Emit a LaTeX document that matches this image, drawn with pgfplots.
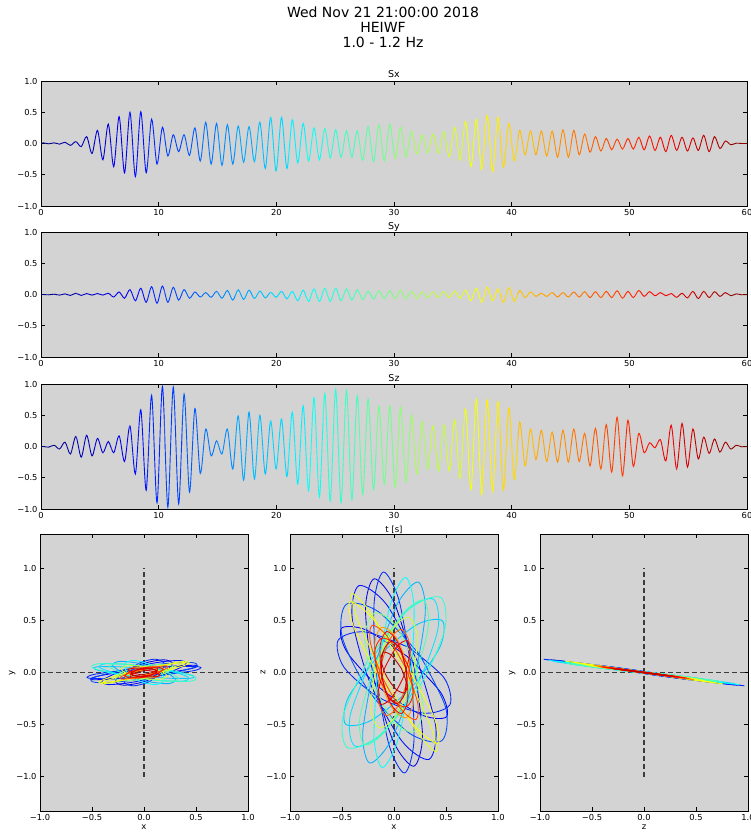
\documentclass[border=0pt]{standalone}
\usepackage{pgfplots}
\pgfplotsset{compat=1.18}
\usepackage{pgfplotstable}
\usepackage{fontspec}
\setmainfont{DejaVu Sans}
\definecolor{bggray}{RGB}{211,211,211}
\definecolor{dgray}{RGB}{60,60,60}
\definecolor{cA}{rgb}{0,0,0.9}
\definecolor{cB}{rgb}{0,0,0.98}
\definecolor{cC}{rgb}{0,0.06,1}
\definecolor{cU}{rgb}{0,0.14,1}
\definecolor{cD}{rgb}{0,0.18,1}
\definecolor{cE}{rgb}{0,0.3,1}
\definecolor{cF}{rgb}{0,0.7,1}
\definecolor{cG}{rgb}{0,0.78,1}
\definecolor{cH}{rgb}{0,0.9,1}
\definecolor{cI}{rgb}{0.02,1,0.98}
\definecolor{cV}{rgb}{0.18,1,0.82}
\definecolor{cJ}{rgb}{0.3,1,0.7}
\definecolor{cK}{rgb}{0.5,1,0.5}
\definecolor{cL}{rgb}{0.82,1,0.18}
\definecolor{cM}{rgb}{0.9,1,0.1}
\definecolor{cN}{rgb}{0.98,1,0.02}
\definecolor{cO}{rgb}{1,0.62,0}
\definecolor{cP}{rgb}{1,0.38,0}
\definecolor{cW}{rgb}{1,0.3,0}
\definecolor{cQ}{rgb}{1,0.1,0}
\definecolor{cR}{rgb}{1,0.02,0}
\definecolor{cS}{rgb}{0.9,0,0}
\definecolor{cX}{rgb}{0.82,0,0}
\definecolor{cT}{rgb}{0.74,0,0}

% time series: t, Sx, Sy, Sz
\pgfplotstableread{
t sx sy sz
0 0 0 0
0.20 0.01 0.0 0.0
0.66 -0.005 -0.005 -0.01
1.12 0.01 0.005 0.02
1.58 -0.01 -0.01 -0.04
2.04 0.02 0.01 0.07
2.50 -0.03 -0.015 -0.12
2.96 0.03 0.02 0.16
3.42 -0.05 -0.015 -0.17
3.88 0.11 0.015 0.18
4.34 -0.16 -0.01 -0.15
4.80 0.21 0.015 0.13
5.26 -0.26 -0.01 -0.10
5.72 0.31 0.02 0.08
6.18 -0.37 -0.04 -0.10
6.64 0.43 0.04 0.17
7.10 -0.47 -0.06 -0.24
7.56 0.50 0.08 0.33
8.02 -0.53 -0.10 -0.44
8.48 0.51 0.10 0.59
8.94 -0.47 -0.125 -0.70
9.40 0.39 0.125 0.82
9.86 -0.33 -0.14 -0.90
10.32 0.26 0.135 0.96
10.78 -0.20 -0.125 -0.97
11.24 0.14 0.115 0.95
11.70 -0.13 -0.09 -0.92
12.16 0.14 0.08 0.84
12.62 -0.19 -0.06 -0.73
13.08 0.25 0.04 0.61
13.54 -0.28 -0.04 -0.43
14.00 0.34 0.03 0.28
14.46 -0.33 -0.045 -0.15
14.92 0.32 0.05 0.09
15.38 -0.35 -0.06 -0.12
15.84 0.30 0.065 0.28
16.30 -0.33 -0.09 -0.36
16.76 0.28 0.075 0.49
17.22 -0.30 -0.08 -0.54
17.68 0.27 0.07 0.55
18.14 -0.29 -0.065 -0.52
18.60 0.34 0.055 0.50
19.06 -0.40 -0.055 -0.44
19.52 0.42 0.035 0.41
19.98 -0.44 -0.045 -0.36
20.44 0.42 0.05 0.44
20.90 -0.40 -0.07 -0.48
21.36 0.38 0.05 0.55
21.82 -0.31 -0.10 -0.60
22.28 0.32 0.07 0.65
22.74 -0.28 -0.11 -0.71
23.20 0.25 0.09 0.78
23.66 -0.26 -0.11 -0.81
24.12 0.24 0.10 0.85
24.58 -0.23 -0.11 -0.87
25.04 0.22 0.10 0.91
25.50 -0.22 -0.10 -0.90
25.96 0.20 0.09 0.90
26.42 -0.22 -0.09 -0.85
26.88 0.20 0.075 0.81
27.34 -0.27 -0.08 -0.77
27.80 0.27 0.055 0.76
28.26 -0.29 -0.07 -0.69
28.72 0.30 0.06 0.65
29.18 -0.28 -0.065 -0.60
29.64 0.31 0.06 0.65
30.10 -0.24 -0.065 -0.65
30.56 0.26 0.07 0.63
31.02 -0.22 -0.07 -0.57
31.48 0.20 0.05 0.51
31.94 -0.17 -0.06 -0.44
32.40 0.14 0.04 0.40
32.86 -0.15 -0.05 -0.36
33.32 0.15 0.04 0.33
33.78 -0.16 -0.045 -0.39
34.24 0.19 0.05 0.35
34.70 -0.21 -0.05 -0.39
35.16 0.26 0.055 0.43
35.62 -0.27 -0.06 -0.51
36.08 0.35 0.07 0.60
36.54 -0.37 -0.10 -0.69
37.00 0.39 0.10 0.76
37.46 -0.42 -0.125 -0.77
37.92 0.45 0.115 0.75
38.38 -0.45 -0.10 -0.72
38.84 0.42 0.09 0.72
39.30 -0.38 -0.125 -0.70
39.76 0.32 0.11 0.62
40.22 -0.28 -0.11 -0.53
40.68 0.21 0.065 0.39
41.14 -0.18 -0.05 -0.31
41.60 0.20 0.04 0.28
42.06 -0.18 -0.03 -0.21
42.52 0.20 0.02 0.26
42.98 -0.20 -0.03 -0.24
43.44 0.20 0.03 0.23
43.90 -0.22 -0.04 -0.25
44.36 0.22 0.03 0.26
44.82 -0.22 -0.04 -0.25
45.28 0.21 0.04 0.28
45.74 -0.18 -0.04 -0.24
46.20 0.15 0.045 0.21
46.66 -0.14 -0.05 -0.31
47.12 0.11 0.045 0.29
47.58 -0.12 -0.05 -0.36
48.04 0.08 0.05 0.35
48.50 -0.10 -0.05 -0.41
48.96 0.07 0.06 0.47
49.42 -0.09 -0.06 -0.47
49.88 0.08 0.05 0.42
50.34 -0.09 -0.05 -0.32
50.80 0.10 0.065 0.21
51.26 -0.10 -0.03 -0.10
51.72 0.12 0.045 0.06
52.18 -0.11 -0.02 -0.02
52.64 0.10 0.03 0.11
53.10 -0.13 -0.02 -0.23
53.56 0.13 0.015 0.34
54.02 -0.11 -0.045 -0.36
54.48 0.10 0.02 0.37
54.94 -0.12 -0.055 -0.33
55.40 0.09 0.05 0.28
55.86 -0.11 -0.065 -0.20
56.32 0.13 0.05 0.15
56.78 -0.13 -0.05 -0.11
57.24 0.11 0.045 0.12
57.70 -0.08 -0.03 -0.09
58.16 0.04 0.03 0.07
58.62 -0.02 -0.02 -0.04
59.08 0.005 0.01 0.02
59.54 0 -0.005 -0.005
60 0 0 0
}\sdata

% hodogram loops: x z y
\pgfplotstableread{
x z y
0.196 0.042 0.000
0.004 0.666 -0.087
-0.191 0.900 -0.122
-0.274 0.607 -0.086
-0.196 -0.042 0.000
-0.004 -0.666 0.087
0.191 -0.900 0.122
0.274 -0.607 0.086
0.196 0.042 0.000
}\elA
\pgfplotstableread{
x z y
0.129 0.153 -0.017
-0.267 0.408 -0.060
-0.506 0.424 -0.068
-0.449 0.192 -0.036
-0.129 -0.153 0.017
0.267 -0.408 0.060
0.506 -0.424 0.068
0.449 -0.192 0.036
0.129 0.153 -0.017
}\elB
\pgfplotstableread{
x z y
0.232 0.094 -0.006
-0.074 0.656 -0.087
-0.337 0.834 -0.116
-0.402 0.523 -0.078
-0.232 -0.094 0.006
0.074 -0.656 0.087
0.337 -0.834 0.116
0.402 -0.523 0.078
0.232 0.094 -0.006
}\elC
\pgfplotstableread{
x z y
0.140 0.242 -0.027
-0.281 0.390 -0.058
-0.537 0.310 -0.053
-0.479 0.048 -0.018
-0.140 -0.242 0.027
0.281 -0.390 0.058
0.537 -0.310 0.053
0.479 -0.048 0.018
0.140 0.242 -0.027
}\elU
\pgfplotstableread{
x z y
0.169 0.018 0.002
0.048 0.695 -0.089
-0.101 0.965 -0.128
-0.191 0.670 -0.092
-0.169 -0.018 -0.002
-0.048 -0.695 0.089
0.101 -0.965 0.128
0.191 -0.670 0.092
0.169 0.018 0.002
}\elD
\pgfplotstableread{
x z y
0.246 0.172 -0.016
-0.151 0.585 -0.080
-0.459 0.655 -0.096
-0.498 0.341 -0.056
-0.246 -0.172 0.016
0.151 -0.585 0.080
0.459 -0.655 0.096
0.498 -0.341 0.056
0.246 0.172 -0.016
}\elE
\pgfplotstableread{
x z y
-0.193 0.052 -0.012
-0.301 -0.578 0.067
-0.233 -0.869 0.107
-0.028 -0.651 0.084
0.193 -0.052 0.012
0.301 0.578 -0.067
0.233 0.869 -0.107
0.028 0.651 -0.084
-0.193 0.052 -0.012
}\elF
\pgfplotstableread{
x z y
-0.161 0.150 -0.024
-0.442 -0.245 0.021
-0.464 -0.497 0.053
-0.214 -0.457 0.054
0.161 -0.150 0.024
0.442 0.245 -0.021
0.464 0.497 -0.053
0.214 0.457 -0.054
-0.161 0.150 -0.024
}\elG
\pgfplotstableread{
x z y
-0.221 0.117 -0.021
-0.422 -0.416 0.043
-0.376 -0.706 0.083
-0.110 -0.582 0.073
0.221 -0.117 0.021
0.422 0.416 -0.043
0.376 0.706 -0.083
0.110 0.582 -0.073
-0.221 0.117 -0.021
}\elH
\pgfplotstableread{
x z y
-0.159 0.020 -0.007
-0.192 -0.631 0.077
-0.112 -0.913 0.116
0.033 -0.660 0.087
0.159 -0.020 0.007
0.192 0.631 -0.077
0.112 0.913 -0.116
-0.033 0.660 -0.087
-0.159 0.020 -0.007
}\elI
\pgfplotstableread{
x z y
-0.237 0.148 -0.025
-0.486 -0.405 0.041
-0.450 -0.721 0.083
-0.151 -0.614 0.076
0.237 -0.148 0.025
0.486 0.405 -0.041
0.450 0.721 -0.083
0.151 0.614 -0.076
-0.237 0.148 -0.025
}\elV
\pgfplotstableread{
x z y
-0.185 0.075 -0.015
-0.329 -0.438 0.049
-0.281 -0.695 0.083
-0.068 -0.544 0.069
0.185 -0.075 0.015
0.329 0.438 -0.049
0.281 0.695 -0.083
0.068 0.544 -0.069
-0.185 0.075 -0.015
}\elJ
\pgfplotstableread{
x z y
0.209 0.068 -0.004
0.017 0.452 -0.059
-0.185 0.571 -0.079
-0.279 0.356 -0.053
-0.209 -0.068 0.004
-0.017 -0.452 0.059
0.185 -0.571 0.079
0.279 -0.356 0.053
0.209 0.068 -0.004
}\elK
\pgfplotstableread{
x z y
-0.174 0.047 -0.010
-0.223 -0.342 0.038
-0.142 -0.531 0.065
0.023 -0.409 0.054
0.174 -0.047 0.010
0.223 0.342 -0.038
0.142 0.531 -0.065
-0.023 0.409 -0.054
-0.174 0.047 -0.010
}\elL
\pgfplotstableread{
x z y
0.088 0.047 -0.004
-0.223 0.570 -0.080
-0.404 0.759 -0.109
-0.348 0.503 -0.074
-0.088 -0.047 0.004
0.223 -0.570 0.080
0.404 -0.759 0.109
0.348 -0.503 0.074
0.088 0.047 -0.004
}\elM
\pgfplotstableread{
x z y
0.119 0.074 -0.007
-0.216 0.532 -0.074
-0.424 0.678 -0.099
-0.384 0.427 -0.066
-0.119 -0.074 0.007
0.216 -0.532 0.074
0.424 -0.678 0.099
0.384 -0.427 0.066
0.119 0.074 -0.007
}\elN
\pgfplotstableread{
x z y
0.145 0.039 -0.001
0.021 0.335 -0.043
-0.116 0.435 -0.060
-0.185 0.280 -0.041
-0.145 -0.039 0.001
-0.021 -0.335 0.043
0.116 -0.435 0.060
0.185 -0.280 0.041
0.145 0.039 -0.001
}\elO
\pgfplotstableread{
x z y
-0.138 0.024 -0.006
-0.149 -0.276 0.032
-0.073 -0.414 0.052
0.046 -0.310 0.041
0.138 -0.024 0.006
0.149 0.276 -0.032
0.073 0.414 -0.052
-0.046 0.310 -0.041
-0.138 0.024 -0.006
}\elP
\pgfplotstableread{
x z y
0.109 0.051 -0.004
-0.072 0.356 -0.048
-0.211 0.453 -0.064
-0.226 0.284 -0.043
-0.109 -0.051 0.004
0.072 -0.356 0.048
0.211 -0.453 0.064
0.226 -0.284 0.043
0.109 0.051 -0.004
}\elW
\pgfplotstableread{
x z y
0.141 0.051 -0.003
0.015 0.269 -0.035
-0.120 0.329 -0.046
-0.185 0.197 -0.031
-0.141 -0.051 0.003
-0.015 -0.269 0.035
0.120 -0.329 0.046
0.185 -0.197 0.031
0.141 0.051 -0.003
}\elQ
\pgfplotstableread{
x z y
0.118 0.021 0.000
0.035 0.293 -0.037
-0.069 0.394 -0.053
-0.132 0.264 -0.037
-0.118 -0.021 0.000
-0.035 -0.293 0.037
0.069 -0.394 0.053
0.132 -0.264 0.037
0.118 0.021 0.000
}\elR
\pgfplotstableread{
x z y
-0.093 0.037 -0.007
-0.153 -0.190 0.021
-0.124 -0.306 0.037
-0.022 -0.243 0.031
0.093 -0.037 0.007
0.153 0.190 -0.021
0.124 0.306 -0.037
0.022 0.243 -0.031
-0.093 0.037 -0.007
}\elS
\pgfplotstableread{
x z y
0.120 0.010 0.002
0.066 0.218 -0.026
-0.026 0.299 -0.040
-0.103 0.204 -0.030
-0.120 -0.010 -0.002
-0.066 -0.218 0.026
0.026 -0.299 0.040
0.103 -0.204 0.030
0.120 0.010 0.002
}\elX
\pgfplotstableread{
x z y
0.071 0.038 -0.003
-0.023 0.164 -0.022
-0.103 0.194 -0.028
-0.123 0.110 -0.017
-0.071 -0.038 0.003
0.023 -0.164 0.022
0.103 -0.194 0.028
0.123 -0.110 0.017
0.071 0.038 -0.003
}\elT

\newcommand\ellipses[2]{%
\addplot[smooth,cA,hl] table[x=#1,y=#2]{\elA};
\addplot[smooth,cB,hl] table[x=#1,y=#2]{\elB};
\addplot[smooth,cC,hl] table[x=#1,y=#2]{\elC};
\addplot[smooth,cU,hl] table[x=#1,y=#2]{\elU};
\addplot[smooth,cD,hl] table[x=#1,y=#2]{\elD};
\addplot[smooth,cE,hl] table[x=#1,y=#2]{\elE};
\addplot[smooth,cF,hl] table[x=#1,y=#2]{\elF};
\addplot[smooth,cG,hl] table[x=#1,y=#2]{\elG};
\addplot[smooth,cH,hl] table[x=#1,y=#2]{\elH};
\addplot[smooth,cI,hl] table[x=#1,y=#2]{\elI};
\addplot[smooth,cV,hl] table[x=#1,y=#2]{\elV};
\addplot[smooth,cJ,hl] table[x=#1,y=#2]{\elJ};
\addplot[smooth,cK,hl] table[x=#1,y=#2]{\elK};
\addplot[smooth,cL,hl] table[x=#1,y=#2]{\elL};
\addplot[smooth,cM,hl] table[x=#1,y=#2]{\elM};
\addplot[smooth,cN,hl] table[x=#1,y=#2]{\elN};
\addplot[smooth,cO,hl] table[x=#1,y=#2]{\elO};
\addplot[smooth,cP,hl] table[x=#1,y=#2]{\elP};
\addplot[smooth,cW,hl] table[x=#1,y=#2]{\elW};
\addplot[smooth,cQ,hl] table[x=#1,y=#2]{\elQ};
\addplot[smooth,cR,hl] table[x=#1,y=#2]{\elR};
\addplot[smooth,cS,hl] table[x=#1,y=#2]{\elS};
\addplot[smooth,cX,hl] table[x=#1,y=#2]{\elX};
\addplot[smooth,cT,hl] table[x=#1,y=#2]{\elT};
}

\pgfplotsset{
  hl/.style={line width=0.85pt},
  dline/.style={color=dgray, line width=1.3pt, dash pattern=on 5pt off 3pt},
  baseaxis/.style={scale only axis, anchor=north west,
    axis background/.style={fill=bggray},
    tick align=inside, major tick length=4pt,
    tick style={black, line width=0.6pt},
    axis line style={black, line width=0.8pt},
    tick label style={font=\fontsize{8.3}{9}\selectfont, black},
    label style={font=\fontsize{8.5}{10}\selectfont},
    title style={font=\fontsize{9.5}{10}\selectfont, anchor=base, at={(0.5,1)}, yshift=-3pt}},
  tsaxis/.style={baseaxis, width=706pt, height=125pt,
    xmin=0, xmax=60, ymin=-1, ymax=1,
    xtick={0,10,20,30,40,50,60}, xticklabels={0,10,20,30,40,50,60},
    ytick={-1,-0.5,0,0.5,1}, yticklabels={−1.0,−0.5,0.0,0.5,1.0}},
  strip/.style={scale only axis, anchor=north west, hide axis,
    height=125pt, ymin=-1, ymax=1, clip=true},
  hodo/.style={baseaxis, width=208pt, height=277pt,
    xmin=-1, xmax=1, ymin=-1.33, ymax=1.33,
    xtick={-1,-0.5,0,0.5,1}, xticklabels={−1.0,−0.5,0.0,0.5,1.0},
    ytick={-1,-0.5,0,0.5,1}, yticklabels={−1.0,−0.5,0.0,0.5,1.0},
    xlabel shift=-3pt, ylabel shift=-6pt},
}

\begin{document}
\begin{tikzpicture}[x=1pt,y=1pt]
\path[use as bounding box] (0,0) rectangle (751,-832);
\node[anchor=base, font=\fontsize{14}{16}\selectfont] at (383,-18) {Wed Nov 21 21:00:00 2018};
\node[anchor=base, font=\fontsize{14}{16}\selectfont] at (383,-33) {HEIWF};
\node[anchor=base, font=\fontsize{14}{16}\selectfont] at (383,-48) {1.0 - 1.2 Hz};

\begin{axis}[tsaxis, at={(41pt,-81pt)}, title={Sx}]
\end{axis}
\begin{axis}[tsaxis, at={(41pt,-232pt)}, title={Sy}]
\end{axis}
\begin{axis}[tsaxis, at={(41pt,-384pt)}, title={Sz}, xlabel={t [s]}]
\end{axis}

\foreach \i in {0,...,39}{
  \pgfmathsetmacro\va{(\i+0.5)/40}
  \pgfmathsetmacro\colr{max(0,min(1,min(4*\va-1.5,4.5-4*\va)))}
  \pgfmathsetmacro\colg{max(0,min(1,min(4*\va-0.5,3.5-4*\va)))}
  \pgfmathsetmacro\colb{max(0,min(1,min(4*\va+0.5,2.5-4*\va)))}
  \definecolor{segc}{rgb}{\colr,\colg,\colb}
  \pgfmathsetmacro\xa{1.5*\i}
  \pgfmathsetmacro\xb{1.5*\i+1.5}
  \pgfmathsetmacro\px{41+17.65*\i}
  \begin{axis}[strip, width=17.65pt, xmin=\xa, xmax=\xb, at={(\px pt,-81pt)}]
    \addplot[segc, smooth, line width=0.9pt] table[x=t,y=sx]{\sdata};
  \end{axis}
  \begin{axis}[strip, width=17.65pt, xmin=\xa, xmax=\xb, at={(\px pt,-232pt)}]
    \addplot[segc, smooth, line width=0.9pt] table[x=t,y=sy]{\sdata};
  \end{axis}
  \begin{axis}[strip, width=17.65pt, xmin=\xa, xmax=\xb, at={(\px pt,-384pt)}]
    \addplot[segc, smooth, line width=0.9pt] table[x=t,y=sz]{\sdata};
  \end{axis}
}

\begin{axis}[hodo, at={(40pt,-534pt)}, xlabel={x}, ylabel={y}]
  \addplot[dline] coordinates {(-1,0) (1,0)};
  \addplot[dline] coordinates {(0,-1) (0,1)};
  \ellipses{x}{y}
\end{axis}
\begin{axis}[hodo, at={(290pt,-534pt)}, xlabel={x}, ylabel={z}]
  \addplot[dline] coordinates {(-1,0) (1,0)};
  \addplot[dline] coordinates {(0,-1) (0,1)};
  \ellipses{x}{z}
\end{axis}
\begin{axis}[hodo, at={(540pt,-534pt)}, xlabel={z}, ylabel={y}]
  \addplot[dline] coordinates {(-1,0) (1,0)};
  \addplot[dline] coordinates {(0,-1) (0,1)};
  \ellipses{z}{y}
\end{axis}
\end{tikzpicture}
\end{document}
